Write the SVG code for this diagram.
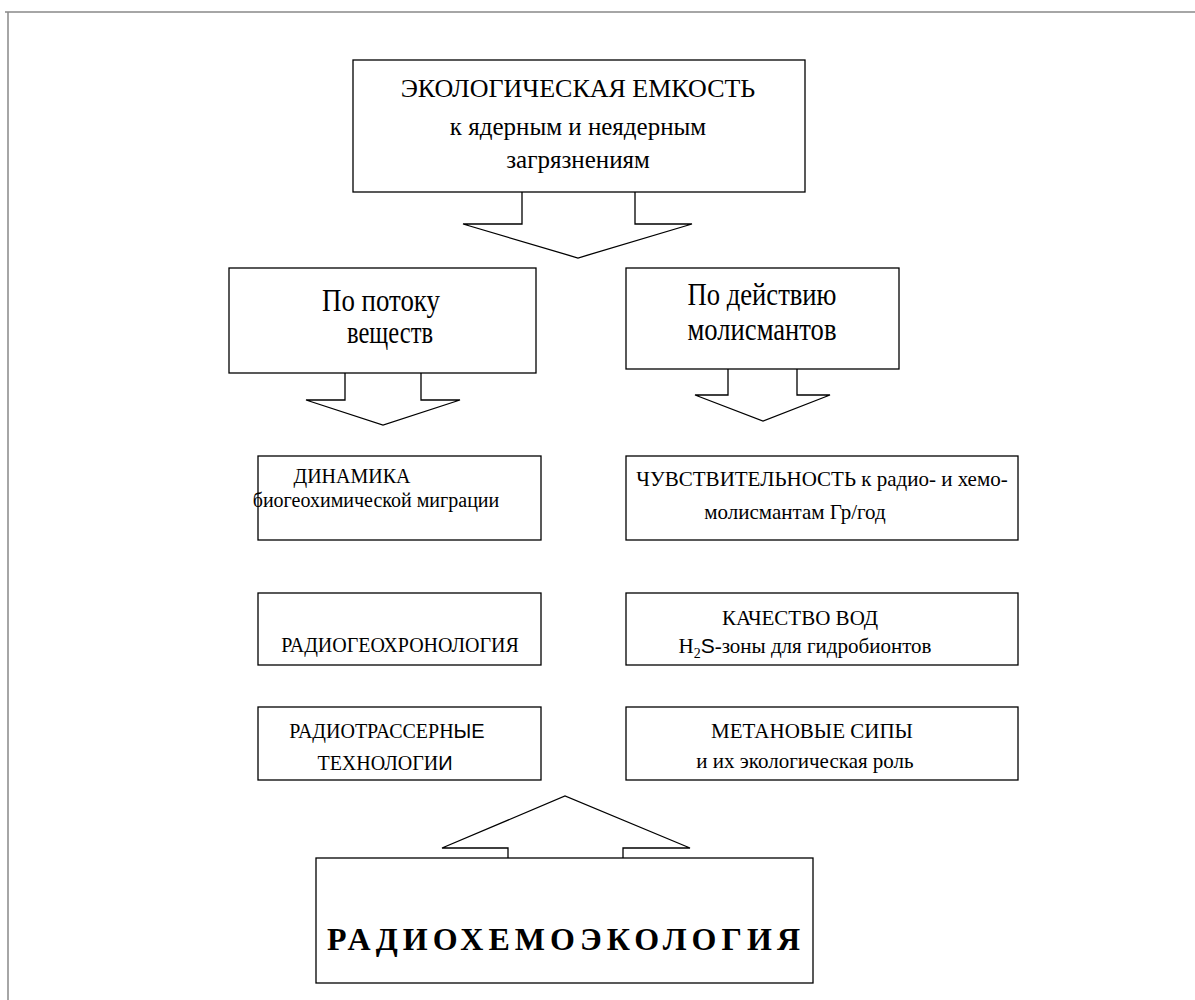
<svg xmlns="http://www.w3.org/2000/svg" width="1195" height="1000" viewBox="0 0 1195 1000">
<style>
.frame{fill:none;stroke:#888;stroke-width:1.5}
.box{fill:#fff;stroke:#000;stroke-width:1.3}
.arr{fill:#fff;stroke:#000;stroke-width:1.3;stroke-linejoin:miter}
.t{font-family:"Liberation Serif","Times New Roman",serif;fill:#000;text-anchor:middle}
.s{font-family:"Liberation Sans",Arial,sans-serif}
</style>
<rect width="1195" height="1000" fill="#fff"/>
<g id="frame">
<line class="frame" x1="5" y1="12" x2="1195" y2="12"/>
<line class="frame" x1="8" y1="12" x2="8" y2="1000"/>
</g>
<g id="connectors">
<path class="arr" d="M522,192 V224 H463 L578,258 L692,224 H635 V192"/>
<path class="arr" d="M345,373 V400 H306 L383,425 L460,400 H421 V373"/>
<path class="arr" d="M728,369 V395 H695 L763,421 L830,395 H797 V369"/>
<path class="arr" d="M508,858 V848 H442 L565,796 L690,848 H623 V858"/>
</g>
<g id="n-top">
<rect class="box" x="353" y="60" width="452" height="132"/>
<text class="t" x="578" y="97" font-size="26">ЭКОЛОГИЧЕСКАЯ ЕМКОСТЬ</text>
<text class="t" x="578" y="135" font-size="25">к ядерным и неядерным</text>
<text class="t" x="578" y="168" font-size="25">загрязнениям</text>
</g>
<g id="n-flow">
<rect class="box" x="229" y="268" width="307" height="105"/>
<text class="t" x="381" y="311" font-size="31" textLength="118" lengthAdjust="spacingAndGlyphs">По потоку</text>
<text class="t" x="390" y="343" font-size="31" textLength="86" lengthAdjust="spacingAndGlyphs">веществ</text>
</g>
<g id="n-action">
<rect class="box" x="626" y="268" width="273" height="101"/>
<text class="t" x="762" y="305" font-size="31" textLength="149" lengthAdjust="spacingAndGlyphs">По действию</text>
<text class="t" x="762" y="340" font-size="31" textLength="149" lengthAdjust="spacingAndGlyphs">молисмантов</text>
</g>
<g id="n-dyn">
<rect class="box" x="258" y="456" width="283" height="84"/>
<text class="t" x="352" y="483" font-size="20">ДИНАМИКА</text>
<text class="t" x="376" y="507" font-size="20">биогеохимической миграции</text>
</g>
<g id="n-sens">
<rect class="box" x="626" y="456" width="392" height="84"/>
<text class="t" x="822" y="486" font-size="21">ЧУВСТВИТЕЛЬНОСТЬ к радио- и хемо-</text>
<text class="t" x="795" y="519" font-size="21">молисмантам Гр/год</text>
</g>
<g id="n-geo">
<rect class="box" x="258" y="593" width="283" height="72"/>
<text class="t" x="400" y="652" font-size="20">РАДИОГЕОХРОНОЛОГИЯ</text>
</g>
<g id="n-water">
<rect class="box" x="626" y="593" width="392" height="72"/>
<text class="t" x="800" y="625" font-size="21">КАЧЕСТВО ВОД</text>
<text class="t" x="805" y="653" font-size="21">H<tspan font-size="14" dy="5">2</tspan><tspan class="s" dy="-5">S</tspan>-зоны для гидробионтов</text>
</g>
<g id="n-tracer">
<rect class="box" x="258" y="707" width="283" height="73"/>
<text class="t" x="387" y="738" font-size="20">РАДИОТРАССЕРН<tspan class="s">ЫЕ</tspan></text>
<text class="t" x="385" y="770" font-size="20">ТЕХНОЛОГИ<tspan class="s">И</tspan></text>
</g>
<g id="n-methane">
<rect class="box" x="626" y="707" width="392" height="73"/>
<text class="t" x="812" y="738" font-size="21">МЕТАНОВЫЕ СИПЫ</text>
<text class="t" x="805" y="768" font-size="21">и их экологическая роль</text>
</g>
<g id="n-main">
<rect class="box" x="316" y="858" width="497" height="125"/>
<text x="327" y="950" font-family="Liberation Serif,'Times New Roman',serif" font-weight="bold" font-size="32" textLength="473" lengthAdjust="spacing">РАДИОХЕМОЭКОЛОГИЯ</text>
</g>
</svg>
